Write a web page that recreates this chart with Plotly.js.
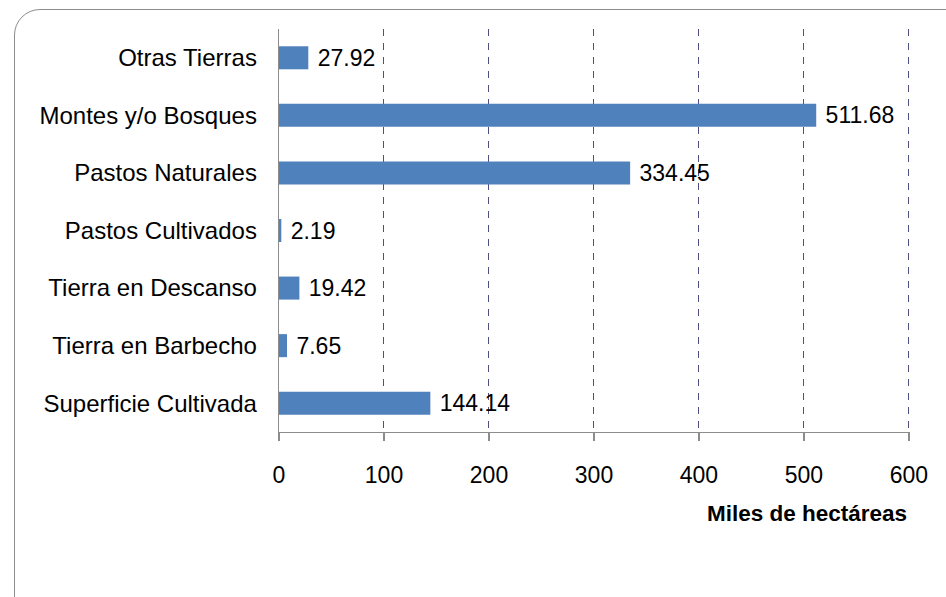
<!DOCTYPE html>
<html>
<head>
<meta charset="utf-8">
<script src="https://cdn.plot.ly/plotly-3.0.1.min.js"></script>
<style>
  html, body { margin: 0; padding: 0; background: #fff; overflow: hidden; }
  #frame { position: absolute; left: 14px; top: 9px; width: 960px; height: 620px;
           border: 1.3px solid #8c8c8c; border-radius: 26px; box-sizing: border-box; }
  #chart { position: absolute; left: 0; top: 0; width: 946px; height: 597px; }
</style>
</head>
<body>
<div id="frame"></div>
<div id="chart"></div>
<script>
const categories = [
  "Superficie Cultivada",
  "Tierra en Barbecho",
  "Tierra en Descanso",
  "Pastos Cultivados",
  "Pastos Naturales",
  "Montes y/o Bosques",
  "Otras Tierras"
];
const values = [144.14, 7.65, 19.42, 2.19, 334.45, 511.68, 27.92];
const valueLabels = ["144.14", "7.65", "19.42", "2.19", "334.45", "511.68", "27.92"];
const xTicks = [0, 100, 200, 300, 400, 500, 600];
const xTitle = "Miles de hectáreas";

const fontFamily = "Liberation Sans, Arial, sans-serif";

const trace = {
  type: "bar",
  orientation: "h",
  y: categories,
  x: values,
  text: valueLabels.map(s => "\u00a0" + s),
  textposition: "outside",
  constraintext: "none",
  cliponaxis: false,
  textfont: { family: fontFamily, size: 23, color: "#000" },
  marker: { color: "#4F81BD" },
  hoverinfo: "none"
};

const layout = {
  width: 946,
  height: 597,
  margin: { l: 279, r: 36, t: 29, b: 165 },
  paper_bgcolor: "rgba(0,0,0,0)",
  plot_bgcolor: "rgba(0,0,0,0)",
  bargap: 0.6,
  showlegend: false,
  font: { family: fontFamily, size: 23, color: "#000" },
  xaxis: {
    range: [0, 601],
    tickvals: xTicks,
    ticktext: xTicks.map(String),
    showgrid: true,
    gridcolor: "#4f4f80",
    griddash: "7px,7px",
    gridwidth: 1,
    zeroline: false,
    showline: true,
    linecolor: "#8c8c8c",
    linewidth: 1.3,
    ticks: "outside",
    ticklen: 8,
    tickcolor: "#8c8c8c",
    tickwidth: 1.3,
    ticklabelstandoff: 14,
    tickfont: { family: fontFamily, size: 23, color: "#000" },
    fixedrange: true
  },
  yaxis: {
    categoryorder: "array",
    categoryarray: categories,
    showgrid: false,
    zeroline: false,
    showline: true,
    linecolor: "#8c8c8c",
    linewidth: 1.3,
    ticks: "",
    ticklabelstandoff: 16,
    tickfont: { family: fontFamily, size: 24, color: "#000" },
    fixedrange: true
  },
  annotations: [{
    text: "<b>" + xTitle + "</b>",
    xref: "paper", yref: "paper",
    x: 1, xanchor: "right", xshift: -1,
    y: 0, yanchor: "top", yshift: -67,
    showarrow: false,
    font: { family: fontFamily, size: 22.5, color: "#000" }
  }]
};

Plotly.newPlot("chart", [trace], layout, { displayModeBar: false, staticPlot: true });
</script>
</body>
</html>
